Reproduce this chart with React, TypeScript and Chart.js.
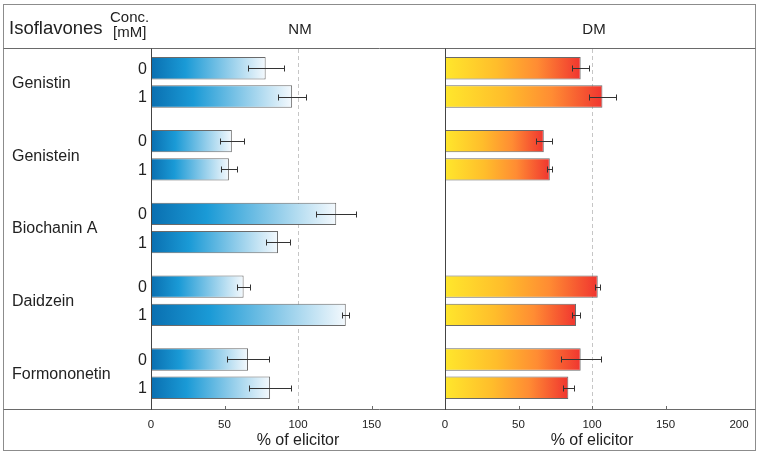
import React, { useEffect, useRef } from "react";
import { Chart, registerables } from "chart.js";

Chart.register(...registerables);

const FONT = "'Liberation Sans', Arial, Helvetica, sans-serif";
const TEXT = "#222222";

// ---- data ----
const groups = ["Genistin", "Genistein", "Biochanin A", "Daidzein", "Formononetin"];
const concLabels = ["0", "1"];
const panelTitles = ["NM", "DM"];
const axisTitle = "% of elicitor";
const refValue = 100;
const xTickValues = [0, 50, 100, 150, 200];

const nm0 = [78, 55, 126, 63, 66];
const nm0Err = [12.3, 8, 13.5, 4.5, 14];
const nm1 = [96, 53, 86.4, 132.5, 81];
const nm1Err = [9.5, 5.2, 8.3, 2.5, 14];
const dm0 = [92.3, 67.2, null, 103.9, 92.3];
const dm0Err = [5.7, 5.6, null, 1.7, 13.7];
const dm1 = [107.1, 71.3, null, 89.1, 83.9];
const dm1Err = [9.3, 1.6, null, 2.8, 3.9];

const errorLists: (number | null)[][] = [nm0Err, nm1Err, dm0Err, dm1Err];

const blueStops: [number, string][] = [
  [0, "#0a6fb0"],
  [0.3, "#1a9ad6"],
  [0.68, "#92cdea"],
  [1, "#f4f9fd"],
];
const warmStops: [number, string][] = [
  [0, "#ffe72c"],
  [0.38, "#ffbd2b"],
  [0.68, "#ff8c33"],
  [1, "#f03530"],
];

function gradientFor(stops: [number, string][]) {
  return (ctx: any) => {
    const chart = ctx.chart;
    const ds = chart.data.datasets[ctx.datasetIndex];
    const scale = chart.scales[ds.xAxisID];
    const v = ctx.parsed ? ctx.parsed.x : ctx.raw;
    if (!scale || v == null || !chart.chartArea) return stops[1][1];
    const x0 = scale.getPixelForValue(0);
    const x1 = scale.getPixelForValue(v);
    if (!isFinite(x0) || !isFinite(x1) || x1 <= x0) return stops[1][1];
    const g = chart.ctx.createLinearGradient(x0, 0, x1, 0);
    stops.forEach(([o, c]) => g.addColorStop(o, c));
    return g;
  };
}

const framePlugin = {
  id: "framePlugin",
  beforeDatasetsDraw(chart: any) {
    const { ctx, chartArea } = chart;
    ctx.save();
    ctx.strokeStyle = "#c6c6c6";
    ctx.lineWidth = 1;
    ctx.setLineDash([4, 3]);
    for (const id of ["x", "x2"]) {
      const px = Math.round(chart.scales[id].getPixelForValue(refValue)) + 0.5;
      ctx.beginPath();
      ctx.moveTo(px, 49);
      ctx.lineTo(px, chartArea.bottom);
      ctx.stroke();
    }
    ctx.restore();
  },
  afterDatasetsDraw(chart: any) {
    const { ctx } = chart;
    ctx.save();
    ctx.strokeStyle = "#333333";
    ctx.lineWidth = 1;
    chart.data.datasets.forEach((ds: any, di: number) => {
      const meta = chart.getDatasetMeta(di);
      const scale = chart.scales[ds.xAxisID];
      meta.data.forEach((bar: any, i: number) => {
        const v = ds.data[i];
        const e = errorLists[di][i];
        if (v == null || e == null) return;
        const xl = Math.round(scale.getPixelForValue(v - e)) + 0.5;
        const xr = Math.round(scale.getPixelForValue(v + e)) + 0.5;
        const y = Math.round(bar.y) + 0.5;
        ctx.beginPath();
        ctx.moveTo(xl, y);
        ctx.lineTo(xr, y);
        ctx.moveTo(xl, y - 3);
        ctx.lineTo(xl, y + 3);
        ctx.moveTo(xr, y - 3);
        ctx.lineTo(xr, y + 3);
        ctx.stroke();
      });
    });
    ctx.restore();
  },
  afterDraw(chart: any) {
    const { ctx, chartArea } = chart;
    const W = chart.width;
    ctx.save();
    // frame
    ctx.lineWidth = 1;
    ctx.strokeStyle = "#8c8c8c";
    ctx.strokeRect(3.5, 4.5, W - 7, 446);
    ctx.strokeStyle = "#6a6a6a";
    ctx.beginPath();
    ctx.moveTo(3.5, 48.5);
    ctx.lineTo(W - 3.5, 48.5);
    ctx.moveTo(3.5, chartArea.bottom - 0.5);
    ctx.lineTo(W - 3.5, chartArea.bottom - 0.5);
    ctx.stroke();

    // zero axis lines and tick marks
    for (const id of ["x", "x2"]) {
      const s = chart.scales[id];
      const px = Math.round(s.getPixelForValue(0)) + 0.5;
      ctx.strokeStyle = "#444444";
      ctx.beginPath();
      ctx.moveTo(px, 48.5);
      ctx.lineTo(px, chartArea.bottom);
      ctx.stroke();
      ctx.strokeStyle = "#6a6a6a";
      for (const t of xTickValues) {
        if (t === 0 || t === 200) continue;
        const tx = Math.round(s.getPixelForValue(t)) + 0.5;
        ctx.beginPath();
        ctx.moveTo(tx, chartArea.bottom - 4);
        ctx.lineTo(tx, chartArea.bottom);
        ctx.stroke();
      }
    }

    // header texts
    ctx.fillStyle = TEXT;
    ctx.textBaseline = "alphabetic";
    ctx.textAlign = "left";
    ctx.font = `18.5px ${FONT}`;
    ctx.fillText("Isoflavones", 9, 34);
    ctx.font = `15px ${FONT}`;
    ctx.fillText("Conc.", 110, 22);
    ctx.fillText("[mM]", 113, 37);
    ctx.textAlign = "center";
    ctx.font = `15px ${FONT}`;
    ["x", "x2"].forEach((id, k) => {
      const s = chart.scales[id];
      ctx.fillText(panelTitles[k], (s.left + s.right) / 2 + 2, 34);
    });

    // group labels
    const yScale = chart.scales.y;
    ctx.textAlign = "left";
    ctx.textBaseline = "middle";
    ctx.font = `16px ${FONT}`;
    groups.forEach((g, i) => {
      ctx.fillText(g, 12, yScale.getPixelForValue(i) + 1);
    });

    // concentration labels
    ctx.textAlign = "right";
    [0, 1].forEach((di) => {
      const meta = chart.getDatasetMeta(di);
      meta.data.forEach((bar: any) => {
        ctx.fillText(concLabels[di], 147, bar.y + 1);
      });
    });
    ctx.restore();
  },
};

function xScale(hideLast: boolean) {
  return {
    type: "linear",
    position: "bottom",
    stack: "panels",
    stackWeight: 1,
    min: 0,
    max: 200,
    afterFit: (s: any) => {
      s.height = 47;
    },
    grid: { display: false, drawTicks: false },
    border: { display: false },
    ticks: {
      stepSize: 50,
      autoSkip: false,
      maxRotation: 0,
      padding: 8,
      color: TEXT,
      font: { family: FONT, size: 11.5 },
      callback: (v: any) => (hideLast && v === 200 ? "" : String(v)),
    },
    title: {
      display: true,
      text: axisTitle,
      color: TEXT,
      font: { family: FONT, size: 16 },
      padding: { top: 0, bottom: 7 },
    },
  };
}

export default function App() {
  const ref = useRef<HTMLCanvasElement>(null);
  useEffect(() => {
    const canvas = ref.current;
    if (!canvas) return;
    const common = {
      categoryPercentage: 0.777,
      barPercentage: 0.79,
      borderColor: "#6a6a6a",
      borderWidth: 1,
    };
    const chart = new Chart(canvas, {
      type: "bar",
      data: {
        labels: groups,
        datasets: [
          { ...common, label: "NM 0", data: nm0, xAxisID: "x", stack: "c0", backgroundColor: gradientFor(blueStops) },
          { ...common, label: "NM 1", data: nm1, xAxisID: "x", stack: "c1", backgroundColor: gradientFor(blueStops) },
          { ...common, label: "DM 0", data: dm0, xAxisID: "x2", stack: "c0", backgroundColor: gradientFor(warmStops) },
          { ...common, label: "DM 1", data: dm1, xAxisID: "x2", stack: "c1", backgroundColor: gradientFor(warmStops) },
        ] as any,
      },
      options: {
        indexAxis: "y",
        animation: false,
        responsive: false,
        maintainAspectRatio: false,
        layout: { padding: { left: 151, right: 20, top: 46, bottom: 0 } },
        plugins: { legend: { display: false }, tooltip: { enabled: false } },
        scales: {
          y: { type: "category", display: false, offset: true, grid: { display: false } },
          x: xScale(true),
          x2: xScale(false),
        } as any,
      },
      plugins: [framePlugin],
    });
    return () => chart.destroy();
  }, []);
  return (
    <div style={{ position: "absolute", left: 0, top: 0, width: 759, height: 457, background: "#fff" }}>
      <canvas ref={ref} width={759} height={457} style={{ display: "block" }} />
    </div>
  );
}
